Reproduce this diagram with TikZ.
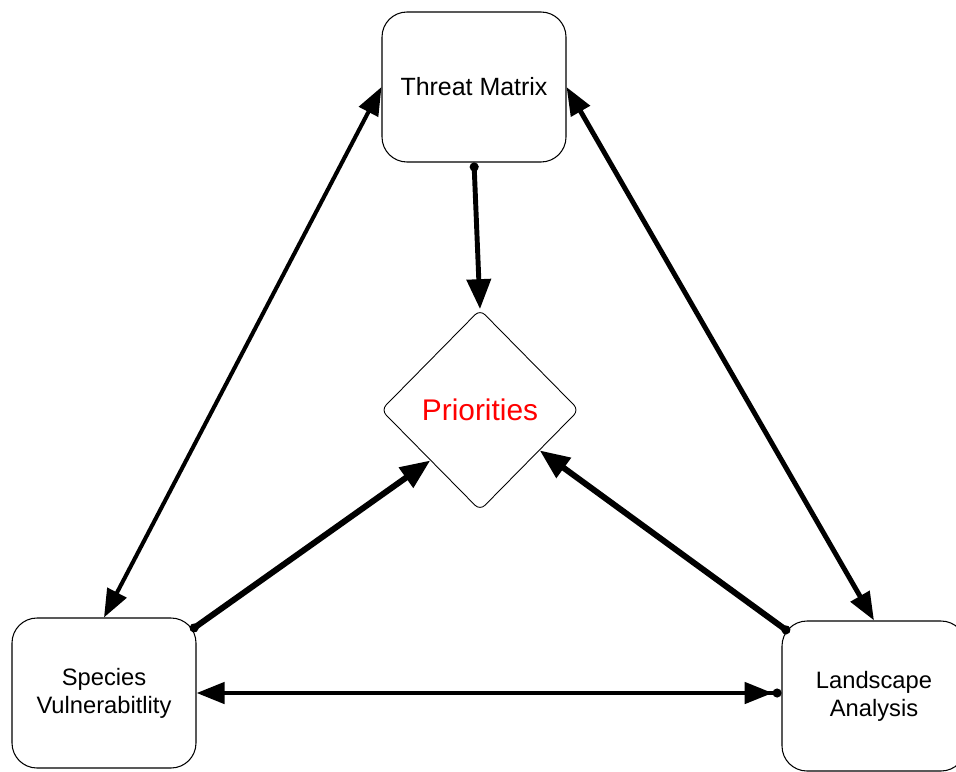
\documentclass[tikz,border=0pt]{standalone}
\usepackage{fontspec}
\setmainfont{Liberation Sans}
\usetikzlibrary{arrows.meta,shapes.geometric,calc}

\begin{document}
\begin{tikzpicture}[
  >={Triangle[length=16pt,width=12pt]},
  box/.style={draw, line width=0.6pt, rounded corners=0.5cm, minimum width=3.68cm, minimum height=3cm, align=center, inner sep=0pt},
  boxtext/.style={font=\fontsize{13.5}{16}\selectfont},
  link/.style={<->, line width=#1},
  feed/.style={{Circle[length=5pt]}-{Triangle[length=17pt,width=13.5pt]}, line width=#1}
]
\useasboundingbox (0,0) rectangle (19.12,-15.42);
\clip (0,0) rectangle (19.12,-15.42);

\node[box, font=\fontsize{14.2}{17}\selectfont] (threat) at (9.48,-1.74) {Threat Matrix};
\node[box, boxtext] (species) at (2.08,-13.86) {Species\\Vulnerabitlity};
\node[box, boxtext] (landscape) at (17.48,-13.92) {Landscape\\Analysis};
\node[diamond, draw, line width=0.5pt, rounded corners=4pt, minimum width=3.96cm, minimum height=4.02cm, inner sep=0pt, text=red, font=\fontsize{17}{20}\selectfont] (prio) at (9.6,-8.2) {Priorities};

\draw[link=2.3pt] (threat.west) -- (species.north);
\draw[link=2.8pt] (threat.east) -- (landscape.north);
\draw[feed=2.8pt] (threat.south) -- (prio.north);
\draw[feed=3.4pt] ($(species.north east)+(-0.12,-0.26)$) -- (prio.south west);
\draw[feed=3.4pt] ($(landscape.north west)+(0.16,-0.24)$) -- ($(prio.east)!0.4!(prio.south)$);
\draw[<-{> Circle[length=5pt]}, line width=2.6pt] (species.east) -- (species.east -| landscape.west);

\end{tikzpicture}
\end{document}
